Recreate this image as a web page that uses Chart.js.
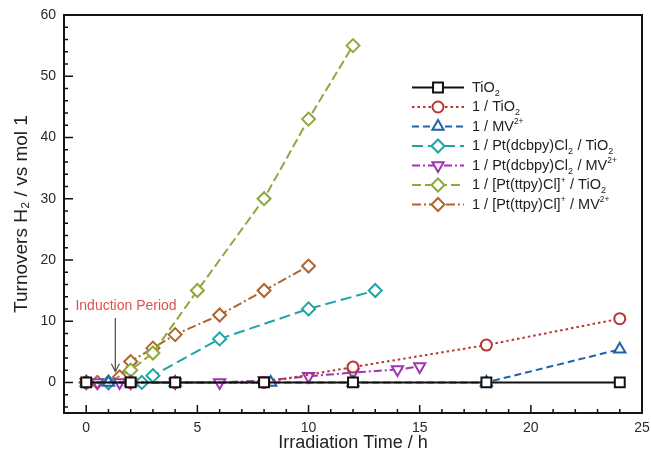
<!DOCTYPE html>
<html>
<head>
<meta charset="utf-8">
<script src="https://cdn.jsdelivr.net/npm/chart.js@4.4.1/dist/chart.umd.min.js"></script>
<style>
  body { margin: 0; background: #fff; }
  #wrap { width: 651px; height: 454px; }
</style>
</head>
<body>
<div id="wrap"><canvas id="turnoverChart" width="651" height="454"></canvas></div>
<script>
// values (x = irradiation time in h, y = turnovers)
const tio2X = [0, 2, 4, 8, 12, 18, 24];
const tio2Y = [0, 0, 0, 0, 0, 0, 0];

const dyeTio2X = [0, 2, 4, 8, 12, 18, 24];
const dyeTio2Y = [0, 0, 0, 0, 2.5, 6.1, 10.4];

const dyeMvX = [0, 1, 2, 4, 8.3, 12, 18, 24];
const dyeMvY = [0, 0, 0, 0, 0, 0, 0, 5.4];

const dcbpyTio2X = [0, 1, 2.5, 3, 6, 10, 13];
const dcbpyTio2Y = [0, 0, 0, 1.1, 7.1, 12, 15];

const dcbpyMvX = [0, 0.5, 1, 1.5, 2, 4, 6, 8, 10, 12, 14, 15];
const dcbpyMvY = [0, 0, 0, 0, 0, 0, 0, 0.3, 1, 1.6, 2.1, 2.6];

const ttpyTio2X = [0, 1, 2, 3, 5, 8, 10, 12];
const ttpyTio2Y = [0, 0, 2, 4.8, 15, 30, 43, 55];

const ttpyMvX = [0, 0.5, 1, 1.5, 2, 3, 4, 6, 8, 10];
const ttpyMvY = [0, 0, 0, 0.9, 3.4, 5.6, 7.8, 11, 15, 19];

// legend names: _x = subscript, ^{..} = superscript
const seriesNames = [
  'TiO_2',
  '1 / TiO_2',
  '1 / MV^{2+}',
  '1 / Pt(dcbpy)Cl_2 / TiO_2',
  '1 / Pt(dcbpy)Cl_2 / MV^{2+}',
  '1 / [Pt(ttpy)Cl]^{+} / TiO_2',
  '1 / [Pt(ttpy)Cl]^{+} / MV^{2+}'
];

const xTicks = [0, 5, 10, 15, 20, 25];
const yTicks = [0, 10, 20, 30, 40, 50, 60];

const annotationText = 'Induction Period';

const FONT = "'Liberation Sans', Arial, Helvetica, sans-serif";
Chart.defaults.font.family = FONT;

function pts(xs, ys) {
  return xs.map((x, i) => ({ x: x, y: ys[i] }));
}

function plainName(s) {
  return s.replace(/_2/g, '\u2082').replace(/\^\{2\+\}/g, '\u00b2\u207a').replace(/\^\{\+\}/g, '\u207a');
}

function series(i, xs, ys, color, dash, style, radius, rot) {
  return {
    label: plainName(seriesNames[i]),
    richName: seriesNames[i],
    data: pts(xs, ys),
    borderColor: color,
    borderWidth: 2,
    borderDash: dash,
    pointStyle: style,
    pointRadius: radius,
    pointHoverRadius: radius,
    pointRotation: rot || 0,
    pointBorderColor: color,
    pointBackgroundColor: '#fff',
    pointBorderWidth: 2,
    tension: 0,
    fill: false
  };
}

const datasets = [
  series(0, tio2X, tio2Y, '#111111', [], 'rect', 7),
  series(1, dyeTio2X, dyeTio2Y, '#b8362f', [2.5, 3], 'circle', 5.5),
  series(2, dyeMvX, dyeMvY, '#1f63a8', [7, 4], 'triangle', 6.5),
  series(3, dcbpyTio2X, dcbpyTio2Y, '#1ea4a6', [11, 5], 'rectRot', 6.5),
  series(4, dcbpyMvX, dcbpyMvY, '#a135b1', [8, 3, 2, 3], 'triangle', 6.5, 180),
  series(5, ttpyTio2X, ttpyTio2Y, '#8fa83a', [9, 4], 'rectRot', 6.5),
  series(6, ttpyMvX, ttpyMvY, '#b0652e', [9, 3, 2, 3], 'rectRot', 6.5)
];

// draws text with simple sub/superscripts
function drawRich(ctx, str, x, y, size) {
  const parts = [];
  const re = /_(.)|\^\{([^}]*)\}|([^_^]+)/g;
  let m;
  while ((m = re.exec(str)) !== null) {
    if (m[1] !== undefined) parts.push({ t: m[1], k: 'sub' });
    else if (m[2] !== undefined) parts.push({ t: m[2], k: 'sup' });
    else parts.push({ t: m[3], k: 'n' });
  }
  ctx.textBaseline = 'middle';
  ctx.textAlign = 'left';
  parts.forEach(p => {
    let fs = size, dy = 0;
    if (p.k === 'sub') { fs = size * 0.62; dy = size * 0.4; }
    if (p.k === 'sup') { fs = size * 0.58; dy = -size * 0.3; }
    ctx.font = fs + 'px ' + FONT;
    ctx.fillText(p.t, x, y + dy);
    x += ctx.measureText(p.t).width + (p.k === 'n' ? 0 : 0.5);
  });
}

function marker(ctx, ds, x, y) {
  ctx.save();
  ctx.strokeStyle = ds.pointBorderColor;
  ctx.fillStyle = ds.pointBackgroundColor;
  ctx.lineWidth = ds.pointBorderWidth;
  ctx.setLineDash([]);
  Chart.helpers.drawPoint(ctx, {
    pointStyle: ds.pointStyle,
    rotation: ds.pointRotation,
    radius: ds.pointRadius,
    borderWidth: ds.pointBorderWidth
  }, x, y);
  ctx.restore();
}

const framePlugin = {
  id: 'frame',
  afterDatasetsDraw(chart) {
    const ctx = chart.ctx;
    const a = chart.chartArea;
    const xs = chart.scales.x, ys = chart.scales.y;
    ctx.save();

    // inward tick marks
    ctx.strokeStyle = '#111';
    ctx.lineWidth = 1.5;
    ctx.beginPath();
    for (let v = 0; v <= 24; v++) {
      const px = xs.getPixelForValue(v);
      const len = v % 5 === 0 ? 8 : 4;
      ctx.moveTo(px, a.bottom);
      ctx.lineTo(px, a.bottom - len);
    }
    for (let v = -4; v <= 58; v += 2) {
      const py = ys.getPixelForValue(v);
      const len = v % 10 === 0 ? 9 : 4;
      ctx.moveTo(a.left, py);
      ctx.lineTo(a.left + len, py);
    }
    ctx.stroke();

    // plot frame
    ctx.lineWidth = 2;
    ctx.strokeStyle = '#151515';
    ctx.strokeRect(a.left, a.top, a.right - a.left, a.bottom - a.top);

    // induction period note + arrow
    const ax = xs.getPixelForValue(1.31);
    const ay1 = ys.getPixelForValue(10.5);
    const ay2 = ys.getPixelForValue(1.75);
    ctx.strokeStyle = '#555';
    ctx.lineWidth = 1.3;
    ctx.beginPath();
    ctx.moveTo(ax, ay1);
    ctx.lineTo(ax, ay2);
    ctx.moveTo(ax - 4, ay2 - 8);
    ctx.lineTo(ax, ay2);
    ctx.lineTo(ax + 4, ay2 - 8);
    ctx.stroke();
    ctx.fillStyle = '#e0504f';
    ctx.font = '14px ' + FONT;
    ctx.textAlign = 'center';
    ctx.textBaseline = 'middle';
    ctx.fillText(annotationText, xs.getPixelForValue(1.79), ys.getPixelForValue(12.5));

    // legend
    const lx1 = 412, lx2 = 464, tx = 472;
    chart.data.datasets.forEach((ds, i) => {
      const ly = 87.5 + i * 19.5;
      ctx.strokeStyle = ds.borderColor;
      ctx.lineWidth = 2;
      ctx.setLineDash(ds.borderDash);
      ctx.beginPath();
      ctx.moveTo(lx1, ly);
      ctx.lineTo(lx2, ly);
      ctx.stroke();
      ctx.setLineDash([]);
      marker(ctx, ds, (lx1 + lx2) / 2, ly);
      ctx.fillStyle = '#222';
      drawRich(ctx, ds.richName, tx, ly, 14.5);
    });
    ctx.restore();
  }
};

new Chart(document.getElementById('turnoverChart'), {
  type: 'line',
  data: { datasets: datasets },
  plugins: [framePlugin],
  options: {
    responsive: false,
    animation: false,
    layout: { padding: { top: 15, right: 8, left: 0, bottom: 0 } },
    plugins: {
      legend: { display: false },
      tooltip: { enabled: false }
    },
    scales: {
      x: {
        type: 'linear',
        min: -1,
        max: 25,
        grid: { display: false, drawTicks: false },
        border: { display: false },
        afterBuildTicks: s => { s.ticks = xTicks.map(v => ({ value: v })); },
        afterFit: s => { s.height = 41; s.paddingLeft = 0; s.paddingRight = 0; },
        ticks: { padding: 7, color: '#2a2a2a', font: { size: 14 } },
        title: {
          display: true,
          text: 'Irradiation Time / h',
          color: '#222',
          font: { size: 18 },
          padding: { top: 0, bottom: 0 }
        }
      },
      y: {
        type: 'linear',
        min: -5,
        max: 60,
        grid: { display: false, drawTicks: false },
        border: { display: false },
        afterBuildTicks: s => { s.ticks = yTicks.map(v => ({ value: v })); },
        afterFit: s => { s.width = 64; s.paddingTop = 0; s.paddingBottom = 0; },
        ticks: { padding: 8, color: '#2a2a2a', font: { size: 14 } },
        title: {
          display: true,
          text: 'Turnovers H\u2082 / vs mol 1',
          color: '#222',
          font: { size: 19 },
          padding: { top: 10, bottom: 0 }
        }
      }
    }
  }
});
</script>
</body>
</html>
